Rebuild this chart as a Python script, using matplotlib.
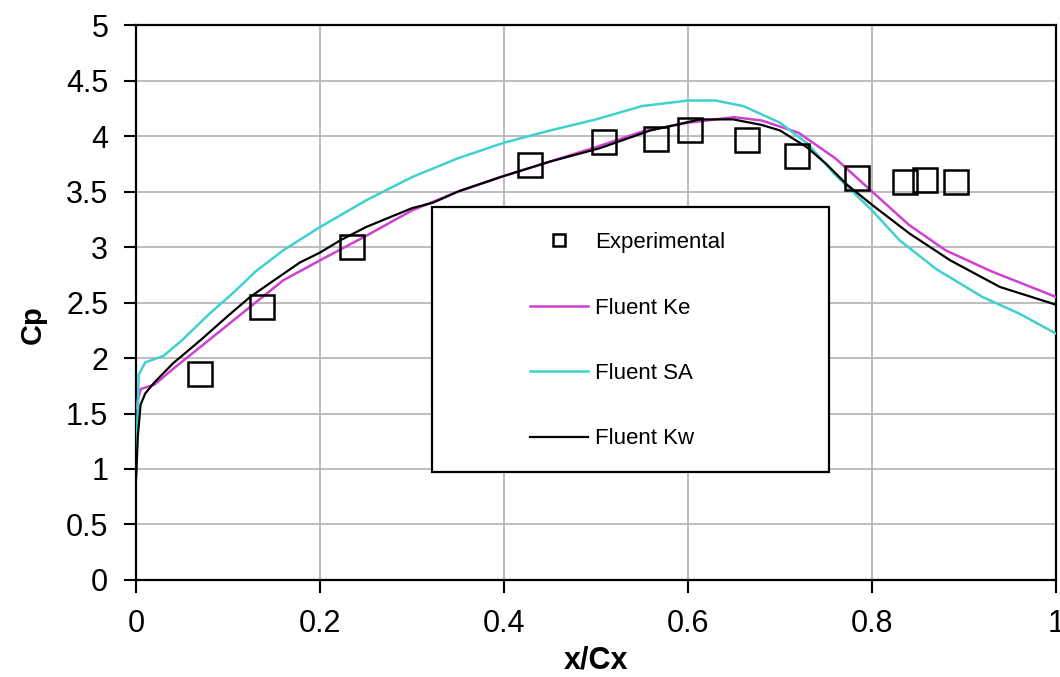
import numpy as np
import matplotlib
matplotlib.use('Agg')
import matplotlib.pyplot as plt
from matplotlib.patches import Rectangle

plt.rcParams['font.family'] = ['Liberation Sans', 'DejaVu Sans']

# 実験値
exp_x = [0.070, 0.137, 0.235, 0.428, 0.509, 0.565, 0.602, 0.664, 0.718, 0.784, 0.836, 0.858, 0.891]
exp_y = [1.86, 2.46, 3.00, 3.74, 3.95, 3.97, 4.05, 3.96, 3.82, 3.62, 3.59, 3.60, 3.59]

# Fluent Ke
ke_x = [0.0, 0.005, 0.02, 0.04, 0.07, 0.10, 0.13, 0.16, 0.20, 0.25, 0.30, 0.35, 0.40, 0.45,
        0.50, 0.55, 0.60, 0.65, 0.68, 0.72, 0.76, 0.80, 0.84, 0.88, 0.93, 1.0]
ke_y = [1.55, 1.72, 1.76, 1.90, 2.10, 2.30, 2.50, 2.70, 2.88, 3.10, 3.33, 3.50, 3.64, 3.77,
        3.90, 4.04, 4.12, 4.17, 4.14, 4.03, 3.80, 3.50, 3.20, 2.97, 2.78, 2.55]

# Fluent SA
sa_x = [0.0, 0.003, 0.01, 0.03, 0.05, 0.08, 0.106, 0.13, 0.16, 0.20, 0.225, 0.25, 0.30, 0.35,
        0.40, 0.45, 0.50, 0.55, 0.60, 0.63, 0.66, 0.70, 0.73, 0.76, 0.80, 0.83, 0.87, 0.92, 0.96, 1.0]
sa_y = [0.95, 1.85, 1.96, 2.02, 2.16, 2.40, 2.59, 2.78, 2.97, 3.18, 3.30, 3.42, 3.63, 3.80,
        3.94, 4.05, 4.15, 4.27, 4.32, 4.32, 4.27, 4.12, 3.93, 3.65, 3.33, 3.06, 2.80, 2.55, 2.40, 2.22]

# Fluent Kw
kw_x = [0.0, 0.002, 0.005, 0.01, 0.02, 0.04, 0.07, 0.10, 0.124, 0.15, 0.178, 0.20, 0.222, 0.25,
        0.30, 0.323, 0.35, 0.396, 0.45, 0.504, 0.559, 0.613, 0.649, 0.68, 0.70, 0.729, 0.75, 0.773,
        0.80, 0.841, 0.885, 0.939, 1.0]
kw_y = [0.90, 1.30, 1.58, 1.68, 1.78, 1.95, 2.16, 2.38, 2.55, 2.70, 2.86, 2.95, 3.06, 3.18,
        3.35, 3.40, 3.50, 3.63, 3.77, 3.89, 4.05, 4.15, 4.15, 4.10, 4.05, 3.90, 3.75, 3.56,
        3.38, 3.12, 2.88, 2.64, 2.48]

fig = plt.figure(figsize=(10.6, 6.77), dpi=100)
ax = fig.add_axes([0.1283, 0.1433, 0.868, 0.8197])

ax.plot(ke_x, ke_y, color='#d040d0', lw=1.8, label='Fluent Ke', zorder=3)
ax.plot(sa_x, sa_y, color='#40d0d0', lw=1.8, label='Fluent SA', zorder=3)
ax.plot(kw_x, kw_y, color='black', lw=1.6, label='Fluent Kw', zorder=4)
ax.plot(exp_x, exp_y, ls='none', marker='s', ms=17, mfc='none', mec='black', mew=1.8,
        label='Experimental', zorder=5)

ax.set_xlim(0, 1)
ax.set_ylim(0, 5)
ax.set_xticks(np.arange(0, 1.01, 0.2))
ax.set_xticklabels(['0', '0.2', '0.4', '0.6', '0.8', '1'])
ax.set_yticks(np.arange(0, 5.01, 0.5))
ax.set_yticklabels(['0', '0.5', '1', '1.5', '2', '2.5', '3', '3.5', '4', '4.5', '5'])
ax.grid(True, color='#b8b8b8', lw=1.3)
ax.set_axisbelow(True)
ax.tick_params(direction='out', length=9, width=1.5, labelsize=22)
ax.tick_params(axis='x', pad=12)
ax.tick_params(axis='y', pad=11)
for s in ax.spines.values():
    s.set_linewidth(1.6)

ax.set_xlabel('x/Cx', fontsize=22, fontweight='bold')
ax.xaxis.set_label_coords(0.5, -0.118)
ax.set_ylabel('Cp', fontsize=21, fontweight='bold')
ax.yaxis.set_label_coords(-0.097, 0.46)

# 凡例の枠
ax.add_patch(Rectangle((0.322, 0.195), 0.431, 0.477, transform=ax.transAxes,
                       facecolor='white', edgecolor='black', lw=1.6, zorder=6))
h, l = ax.get_legend_handles_labels()
order = [3, 0, 1, 2]
leg = ax.legend([h[i] for i in order], [l[i] for i in order], loc='upper left',
                bbox_to_anchor=(0.407, 0.663), frameon=False, fontsize=16,
                handlelength=2.6, handletextpad=0.3, labelspacing=2.0, markerscale=0.5)
leg.set_zorder(7)

fig.savefig('out.png', dpi=100)
